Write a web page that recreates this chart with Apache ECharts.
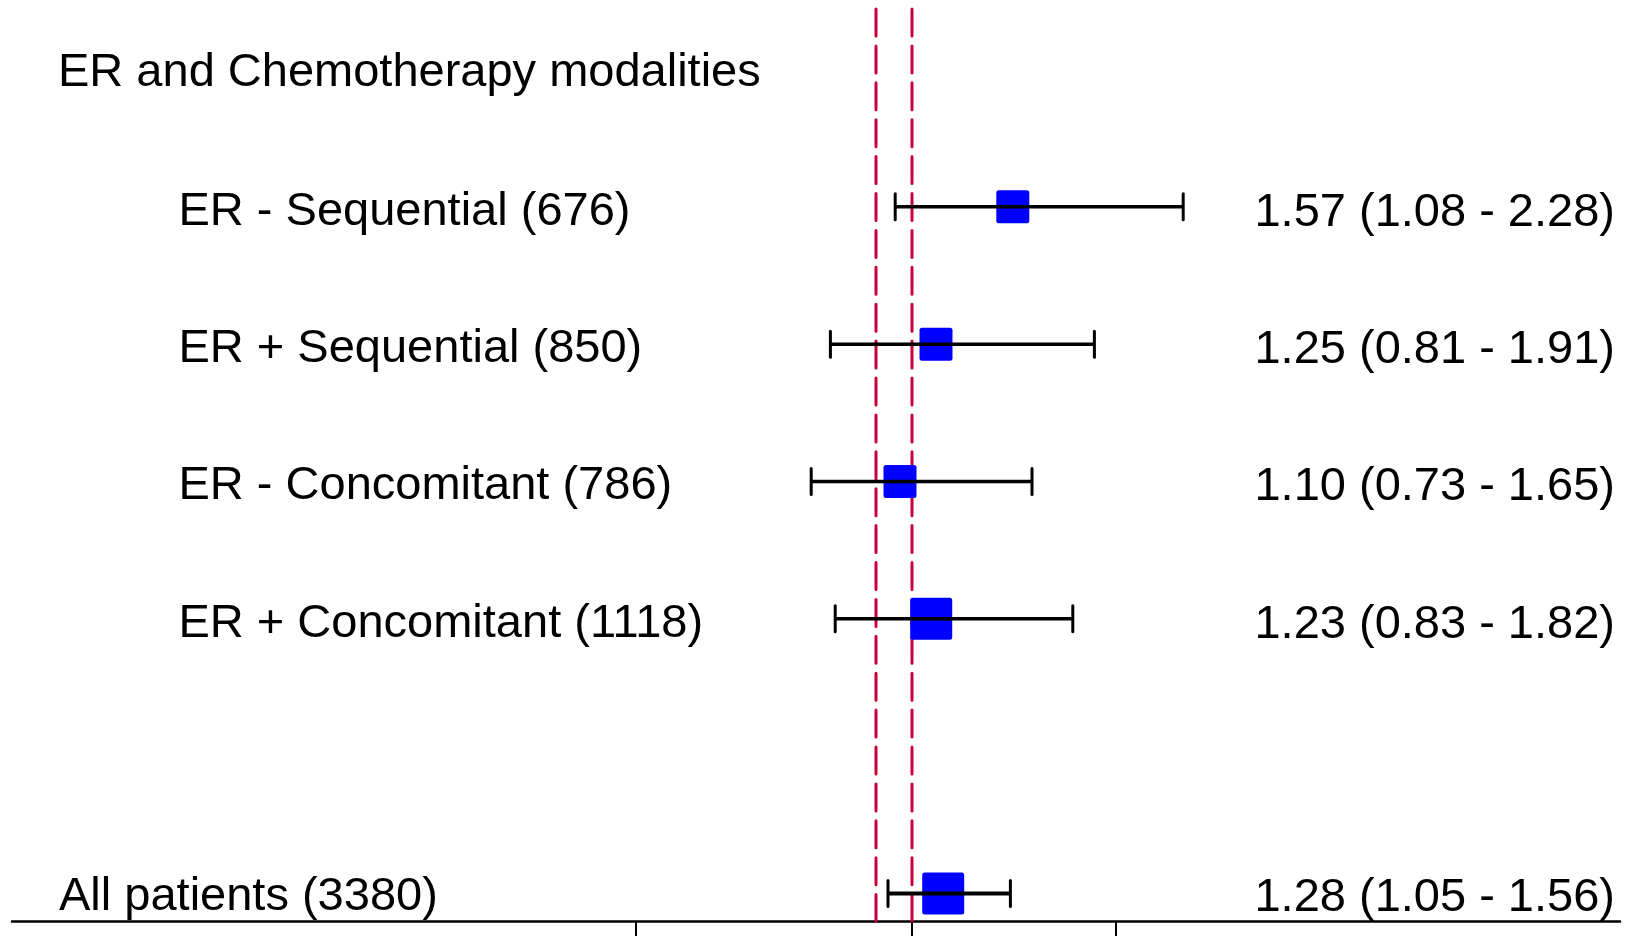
<!DOCTYPE html>
<html>
<head>
<meta charset="utf-8">
<script src="https://cdn.jsdelivr.net/npm/echarts@6/dist/echarts.min.js"></script>
<style>
  html, body { margin: 0; padding: 0; background: #ffffff; }
  #chart { width: 1626px; height: 936px; }
</style>
</head>
<body>
<div id="chart"></div>
<script>
// ---------------- data ----------------
const headingLabel = 'ER and Chemotherapy modalities';
const subgroupLabels = ['ER - Sequential (676)', 'ER + Sequential (850)', 'ER - Concomitant (786)', 'ER + Concomitant (1118)'];
const subgroupHR   = [1.57, 1.25, 1.10, 1.23];
const subgroupLow  = [1.08, 0.81, 0.73, 0.83];
const subgroupHigh = [2.28, 1.91, 1.65, 1.82];
const overallLabel = 'All patients (3380)';
const overallHR = [1.28];
const overallLow = [1.05];
const overallHigh = [1.56];
const referenceLines = [1, 1.15];
const axisTickValues = [0, 1.15, 2];

// ---------------- layout / style ----------------
const FONT = "'Liberation Sans', Arial, Helvetica, sans-serif";
const FONT_SIZE = 47;
const boxSizes = [33, 33, 33, 42, 42];
const X_MIN = -2.6, X_MAX = 4.1;
const Y_MIN = -0.44, Y_MAX = 6.2;

// rows: heading = 0, subgroups = 1..4, blank = 5, overall = 6
const estRows = [];
subgroupHR.forEach((v, i) => estRows.push([subgroupHR[i], i + 1, subgroupLow[i], subgroupHigh[i]]));
estRows.push([overallHR[0], subgroupHR.length + 2, overallLow[0], overallHigh[0]]);

const leftLabels = [{ text: headingLabel, row: 0, kind: 'heading' }];
subgroupLabels.forEach((t, i) => leftLabels.push({ text: t, row: i + 1, kind: 'sub' }));
leftLabels.push({ text: overallLabel, row: subgroupHR.length + 2, kind: 'overall' });

const fmt = v => v.toFixed(2);
const rightLabels = estRows.map(r => ({ text: fmt(r[0]) + ' (' + fmt(r[2]) + ' - ' + fmt(r[3]) + ')', row: r[1], kind: r[1] === subgroupHR.length + 2 ? 'overall' : 'sub' }));

const indent = { heading: 46, sub: 166.5, overall: 47 };
const yShift = { heading: 4, sub: 5, overall: 4 };

const chart = echarts.init(document.getElementById('chart'), null, { renderer: 'canvas' });

const option = {
  animation: false,
  backgroundColor: '#ffffff',
  grid: { left: 12, right: 6, top: 9, bottom: 15, containLabel: false },
  xAxis: {
    type: 'value',
    min: X_MIN, max: X_MAX,
    axisLine: { show: true, onZero: false, lineStyle: { color: '#000', width: 2.5 } },
    axisTick: { show: true, customValues: axisTickValues, length: 22, lineStyle: { color: '#000', width: 2 } },
    axisLabel: { show: false, customValues: axisTickValues },
    splitLine: { show: false }
  },
  yAxis: {
    type: 'value', inverse: true, min: Y_MIN, max: Y_MAX,
    show: false, splitLine: { show: false }
  },
  series: [
    {
      type: 'custom',
      name: 'ref',
      data: referenceLines.map(v => [v]),
      z: 1,
      renderItem: function (params, api) {
        const top = api.coord([api.value(0), Y_MIN]);
        const bot = api.coord([api.value(0), Y_MAX]);
        return {
          type: 'line',
          shape: { x1: top[0], y1: top[1], x2: bot[0], y2: bot[1] },
          style: { stroke: '#c8003c', lineWidth: 3, lineDash: [27, 9.9], lineCap: 'round' }
        };
      }
    },
    {
      type: 'custom',
      name: 'estimates',
      data: estRows,
      z: 3,
      renderItem: function (params, api) {
        const row = api.value(1);
        const c = api.coord([api.value(0), row]);
        const lo = api.coord([api.value(2), row]);
        const hi = api.coord([api.value(3), row]);
        const s = boxSizes[params.dataIndex];
        const isOverall = params.dataIndex === estRows.length - 1;
        return {
          type: 'group',
          children: [
            { type: 'rect', shape: { x: c[0] - s / 2, y: c[1] - s / 2, width: s, height: s, r: 2.5 }, style: { fill: '#0000ff' }, z2: 1 },
            { type: 'line', shape: { x1: lo[0], y1: lo[1], x2: hi[0], y2: hi[1] }, style: { stroke: '#000', lineWidth: isOverall ? 4 : 3.5 }, z2: 2 },
            { type: 'line', shape: { x1: lo[0], y1: lo[1] - 13, x2: lo[0], y2: lo[1] + 13 }, style: { stroke: '#000', lineWidth: 3, lineCap: 'round' }, z2: 2 },
            { type: 'line', shape: { x1: hi[0], y1: hi[1] - 13, x2: hi[0], y2: hi[1] + 13 }, style: { stroke: '#000', lineWidth: 3, lineCap: 'round' }, z2: 2 }
          ]
        };
      }
    },
    {
      type: 'custom',
      name: 'leftText',
      data: leftLabels.map(d => [d.row]),
      z: 4,
      renderItem: function (params, api) {
        const d = leftLabels[params.dataIndex];
        const p = api.coord([X_MIN, api.value(0)]);
        return {
          type: 'text',
          x: p[0] + indent[d.kind],
          y: p[1] + yShift[d.kind],
          style: { text: d.text, fill: '#000', font: FONT_SIZE + 'px ' + FONT, textAlign: 'left', textVerticalAlign: 'middle' }
        };
      }
    },
    {
      type: 'custom',
      name: 'rightText',
      data: rightLabels.map(d => [d.row]),
      z: 4,
      renderItem: function (params, api) {
        const d = rightLabels[params.dataIndex];
        const p = api.coord([X_MAX, api.value(0)]);
        return {
          type: 'text',
          x: p[0] - 5,
          y: p[1] + yShift[d.kind] + 1,
          style: { text: d.text, fill: '#000', font: FONT_SIZE + 'px ' + FONT, textAlign: 'right', textVerticalAlign: 'middle' }
        };
      }
    }
  ]
};

chart.setOption(option);
</script>
</body>
</html>
